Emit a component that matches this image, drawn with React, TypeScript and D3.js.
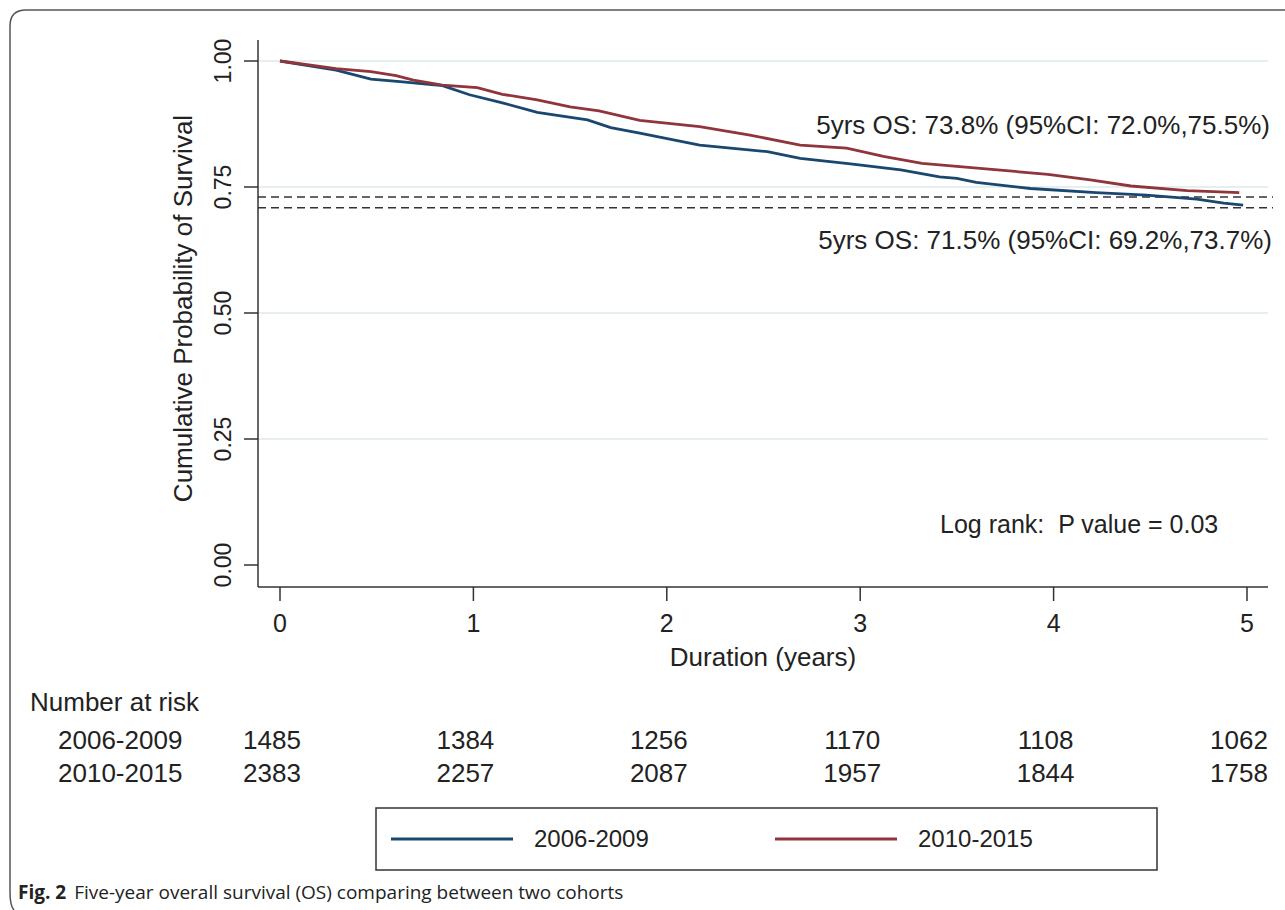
import React from 'react'
import * as d3 from 'd3'

// Kaplan-Meier estimates (years, survival)
const timeEarly = [0, 0.29, 0.47, 0.62, 0.84, 0.98, 1.15, 1.33, 1.59, 1.71, 1.86, 2.17, 2.52, 2.69, 2.95, 3.21, 3.41, 3.5, 3.6, 3.88, 4.22, 4.48, 4.74, 4.88, 4.98]
const survEarly = [1.0, 0.982, 0.964, 0.959, 0.951, 0.933, 0.917, 0.898, 0.883, 0.868, 0.857, 0.833, 0.82, 0.807, 0.796, 0.784, 0.77, 0.767, 0.759, 0.747, 0.739, 0.734, 0.726, 0.718, 0.714]
const timeLate = [0, 0.29, 0.47, 0.6, 0.69, 0.84, 1.02, 1.15, 1.33, 1.5, 1.65, 1.86, 2.17, 2.43, 2.69, 2.93, 3.12, 3.32, 3.41, 3.71, 3.97, 4.19, 4.4, 4.69, 4.96]
const survLate = [1.0, 0.985, 0.979, 0.971, 0.962, 0.952, 0.947, 0.934, 0.923, 0.909, 0.901, 0.882, 0.87, 0.853, 0.833, 0.827, 0.811, 0.797, 0.794, 0.784, 0.775, 0.764, 0.752, 0.743, 0.739]

const groups = ['2006-2009', '2010-2015']
const groupColors = ['#1a476f', '#90353b']
const xTicks = [0, 1, 2, 3, 4, 5]
const yTicks = [0, 0.25, 0.5, 0.75, 1]
const atRiskEarly = [1485, 1384, 1256, 1170, 1108, 1062]
const atRiskLate = [2383, 2257, 2087, 1957, 1844, 1758]
const refLevels = [0.73, 0.709]

const osLate = '5yrs OS: 73.8% (95%CI: 72.0%,75.5%)'
const osEarly = '5yrs OS: 71.5% (95%CI: 69.2%,73.7%)'
const logRank = 'Log rank:  P value = 0.03'

export default function App() {
    const width = 1285
    const height = 910
    const left = 258, right = 1268, top = 40, bottom = 587

    const x = d3.scaleLinear().domain([0, 5]).range([280, 1247])
    const y = d3.scaleLinear().domain([0, 1]).range([565, 61])

    const line = d3.line<[number, number]>()
        .x((d) => x(d[0]))
        .y((d) => y(d[1]))

    const curves = [
        timeEarly.map((t, i) => [t, survEarly[i]] as [number, number]),
        timeLate.map((t, i) => [t, survLate[i]] as [number, number]),
    ]
    const risk = [atRiskEarly, atRiskLate]

    const font = '"Liberation Sans", Arial, sans-serif'
    const ink = '#222'

    return (
        <svg width={width} height={height} style={{ position: 'absolute', left: 0, top: 0 }} fontFamily={font}>
            <rect width={width} height={height} fill="#fff" />
            {/* panel frame, rounded on the left */}
            <path d={`M ${width + 20} 10 L 26 10 Q 10 10 10 26 L 10 892 Q 10 906 14 910`} fill="none" stroke="#555" strokeWidth={1.5} />

            {/* grid */}
            {yTicks.filter((v) => v > 0).map((v) => (
                <line key={v} x1={left} x2={right} y1={y(v)} y2={y(v)} stroke="#e6eef1" strokeWidth={2} />
            ))}

            {/* reference dashed lines */}
            {refLevels.map((v) => (
                <line key={v} x1={left} x2={1273} y1={y(v)} y2={y(v)} stroke="#333" strokeWidth={1.5} strokeDasharray="8 5" />
            ))}

            {/* curves */}
            {curves.map((c, i) => (
                <path key={i} d={line(c) ?? ''} fill="none" stroke={groupColors[i]} strokeWidth={2.8} />
            ))}

            {/* axes */}
            <line x1={left} x2={left} y1={top} y2={bottom} stroke="#333" strokeWidth={1.5} />
            <line x1={left} x2={right} y1={bottom} y2={bottom} stroke="#333" strokeWidth={1.5} />
            {yTicks.map((v) => (
                <g key={v}>
                    <line x1={left - 14} x2={left} y1={y(v)} y2={y(v)} stroke="#333" strokeWidth={1.5} />
                    <text transform={`translate(231,${y(v)}) rotate(-90)`} textAnchor="middle" fontSize={23} fill={ink}>
                        {d3.format('.2f')(v)}
                    </text>
                </g>
            ))}
            {xTicks.map((t) => (
                <g key={t}>
                    <line x1={x(t)} x2={x(t)} y1={bottom} y2={bottom + 14} stroke="#333" strokeWidth={1.5} />
                    <text x={x(t)} y={632} textAnchor="middle" fontSize={25} fill={ink}>{t}</text>
                </g>
            ))}
            <text x={(left + right) / 2} y={666} textAnchor="middle" fontSize={26} fill={ink}>Duration (years)</text>
            <text transform={`translate(192,${(top + bottom) / 2 - 5}) rotate(-90)`} textAnchor="middle" fontSize={26} fill={ink}>
                Cumulative Probability of Survival
            </text>

            {/* annotations */}
            <text x={1270} y={134} textAnchor="end" fontSize={26} fill={ink}>{osLate}</text>
            <text x={1272} y={249} textAnchor="end" fontSize={26} fill={ink}>{osEarly}</text>
            <text x={940} y={533} fontSize={25} fill={ink} style={{ whiteSpace: 'pre' }}>{logRank}</text>

            {/* number at risk */}
            <text x={30} y={711} fontSize={26} fill={ink}>Number at risk</text>
            {groups.map((g, i) => (
                <g key={g}>
                    <text x={58} y={749 + i * 33} fontSize={26} fill={ink}>{g}</text>
                    {risk[i].map((n, j) => (
                        <text key={j} x={x(xTicks[j]) - 8} y={749 + i * 33} textAnchor="middle" fontSize={26} fill={ink}>{n}</text>
                    ))}
                </g>
            ))}

            {/* legend */}
            <rect x={376} y={808} width={781} height={62} fill="#fff" stroke="#333" strokeWidth={1.5} />
            {groups.map((g, i) => (
                <g key={g} transform={`translate(${391 + i * 384},839)`}>
                    <line x1={0} x2={122} y1={0} y2={0} stroke={groupColors[i]} strokeWidth={2.8} />
                    <text x={143} y={8} fontSize={24} fill={ink}>{g}</text>
                </g>
            ))}

            {/* caption */}
            <text x={18} y={899} fontSize={19} fill={ink} fontFamily='"Open Sans", sans-serif'>
                <tspan fontWeight="bold">Fig. 2</tspan>
                <tspan dx={8}>Five-year overall survival (OS) comparing between two cohorts</tspan>
            </text>
        </svg>
    )
}
